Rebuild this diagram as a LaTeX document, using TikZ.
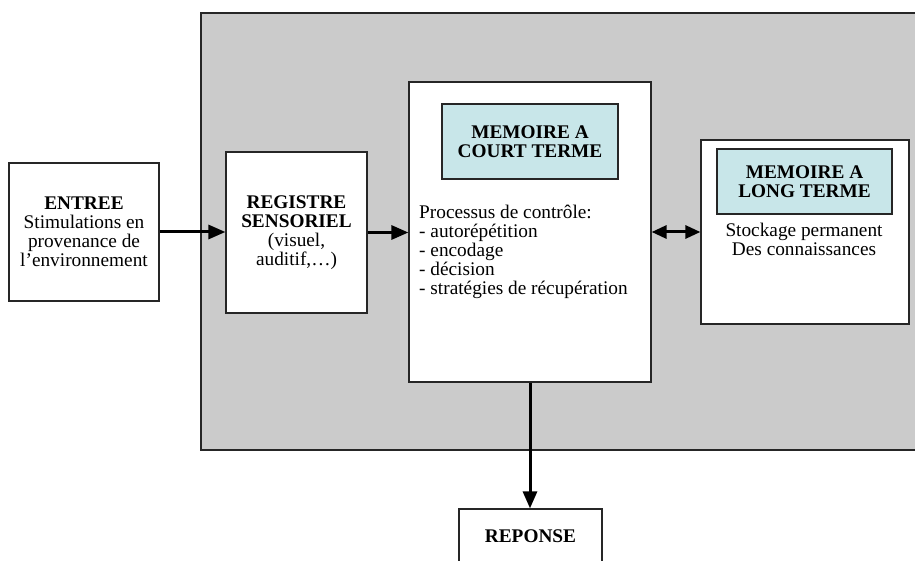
\documentclass[tikz,border=0pt]{standalone}
\usepackage{fontspec}
\setmainfont{Liberation Serif}
\usepackage{tikz}
\usetikzlibrary{arrows.meta, positioning, calc}
\definecolor{zonegray}{RGB}{203,203,203}
\definecolor{titleteal}{RGB}{200,230,233}

\begin{document}
\begin{tikzpicture}[x=1pt, y=-1pt,
      txt/.style={font=\fontsize{19.3}{19}\selectfont},
      box/.style={rectangle, draw=black!85, line width=1.2pt, fill=white, align=center, inner sep=0pt, txt},
      tbox/.style={box, fill=titleteal},
      zone/.style={rectangle, draw=black!85, line width=1.4pt, fill=zonegray, inner sep=0pt},
      arr/.style={-{Triangle[length=17pt, width=14pt]}, line width=3pt},
      darr/.style={{Triangle[length=15pt, width=13pt]}-{Triangle[length=15pt, width=13pt]}, line width=3pt},
    ]
    \useasboundingbox (0,0) rectangle (915,561);
    \clip (0,0) rectangle (915,561);
    \node[zone, minimum width=740pt, minimum height=437pt] (sys) at (571,231.5) {};
    \node[box, minimum width=150pt, minimum height=138pt] (entree) at (84,232)
      {\textbf{ENTREE}\\Stimulations en\\provenance de\\l'environnement};
    \node[box, minimum width=141pt, minimum height=161pt] (registre) at (296.5,232.5)
      {\textbf{REGISTRE}\\\textbf{SENSORIEL}\\(visuel,\\auditif,\ldots)};
    \node[box, minimum width=242pt, minimum height=300pt] (mct) at (530,232) {};
    \node[tbox, minimum width=176pt, minimum height=75pt] (mctt) at (530,141.5)
      {\textbf{MEMOIRE A}\\\textbf{COURT TERME}};
    \node[txt, anchor=north west, inner sep=0pt, align=left] (mctl) at (419,205)
      {Processus de contrôle:\\- autorépétition\\- encodage\\- décision\\- stratégies de récupération};
    \node[box, minimum width=208pt, minimum height=184pt] (mlt) at (805,232) {};
    \node[tbox, minimum width=175pt, minimum height=65pt] (mltt) at (804.5,181.5)
      {\textbf{MEMOIRE A}\\\textbf{LONG TERME}};
    \node[txt, align=center, inner sep=0pt] (mltx) at (804,239.5)
      {Stockage permanent\\Des connaissances};
    \node[box, minimum width=143pt, minimum height=54pt] (reponse) at (530.5,536)
      {\textbf{REPONSE}};
    \draw[arr] (entree.east) -- (entree.east -| registre.west);
    \draw[arr] (registre.east) -- (registre.east -| mct.west);
    \draw[darr] (mct.east) -- (mlt.west);
    \draw[arr] (mct.south) -- (mct.south |- reponse.north);
  \end{tikzpicture}
\end{document}
